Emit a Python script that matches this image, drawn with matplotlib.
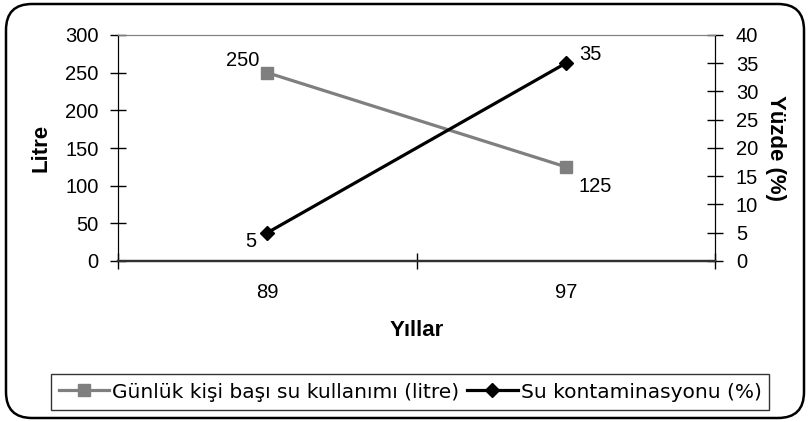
import matplotlib
matplotlib.use('Agg')
import matplotlib.pyplot as plt
from matplotlib.patches import FancyBboxPatch
from matplotlib.transforms import IdentityTransform

# data
years = ['89', '97']
usage = [250, 125]          # Günlük kişi başı su kullanımı (litre)
contamination = [5, 35]     # Su kontaminasyonu (%)
left_ticks = [0, 50, 100, 150, 200, 250, 300]
right_ticks = [0, 5, 10, 15, 20, 25, 30, 35, 40]

plt.rcParams['font.family'] = ['Liberation Sans', 'DejaVu Sans']

fig = plt.figure(figsize=(8.1, 4.22), dpi=100)

# rounded chart border (pixel coordinates)
border = FancyBboxPatch((6, 4), 798, 414, boxstyle="round,pad=0,rounding_size=26",
                        transform=IdentityTransform(), facecolor='none',
                        edgecolor='black', linewidth=1.8)
fig.add_artist(border)

ax = fig.add_axes([118/810, 1 - 261/422, (715-118)/810, (261-35)/422])
ax2 = ax.twinx()

x = list(range(len(years)))
l1, = ax.plot(x, usage, color='#7f7f7f', lw=2.3, marker='s', ms=9,
              label='Günlük kişi başı su kullanımı (litre)')
l2, = ax2.plot(x, contamination, color='black', lw=2.3, marker='D', ms=7.5,
               label='Su kontaminasyonu (%)')

ax.set_xlim(-0.5, 1.5)
ax.set_ylim(0, 300)
ax2.set_ylim(0, 40)
ax.set_yticks(left_ticks)
ax2.set_yticks(right_ticks)

# category labels between boundary ticks
ax.set_xticks([-0.5, 0.5, 1.5])
ax.set_xticklabels([])
ax.set_xticks(x, minor=True)
ax.set_xticklabels(years, minor=True)
ax.tick_params(axis='x', which='minor', length=0, pad=16, labelsize=14.5)
ax.tick_params(axis='x', which='major', direction='inout', length=12, width=1)
ax.tick_params(axis='y', direction='inout', length=12, width=1, labelsize=14.5, pad=8)
ax2.tick_params(axis='y', direction='inout', length=12, width=1, labelsize=14.5, pad=9)

for a in (ax, ax2):
    a.spines['top'].set_color('#808080')
    a.spines['left'].set_color('black')
    a.spines['right'].set_color('black')
    a.spines['bottom'].set_color('#303030')
    a.spines['bottom'].set_linewidth(1.6)

ax.set_ylabel('Litre', fontsize=16, fontweight='bold', labelpad=10)
ax2.set_ylabel('Yüzde (%)', fontsize=16, fontweight='bold', rotation=-90,
               va='bottom', labelpad=5)
ax.set_xlabel('Yıllar', fontsize=16, fontweight='bold', labelpad=13)

# data labels
ax.annotate(str(usage[0]), (x[0], usage[0]), xytext=(-6, 9), textcoords='offset points',
            ha='right', va='center', fontsize=14.5)
ax.annotate(str(usage[1]), (x[1], usage[1]), xytext=(9, -14), textcoords='offset points',
            ha='left', va='center', fontsize=14.5)
ax2.annotate(str(contamination[0]), (x[0], contamination[0]), xytext=(-8, -6),
             textcoords='offset points', ha='right', va='center', fontsize=14.5)
ax2.annotate(str(contamination[1]), (x[1], contamination[1]), xytext=(10, 6),
             textcoords='offset points', ha='left', va='center', fontsize=14.5)

leg = fig.legend(handles=[l1, l2], loc='center', bbox_to_anchor=(410/810, 1 - 392/422),
                 ncol=2, frameon=True, fancybox=False, edgecolor='black',
                 prop={'family': 'DejaVu Sans', 'size': 14.5}, handlelength=2.5,
                 columnspacing=0.4, handletextpad=0.15, borderpad=0.4)
leg.get_frame().set_linewidth(1.0)

fig.savefig('out.png', dpi=100)
